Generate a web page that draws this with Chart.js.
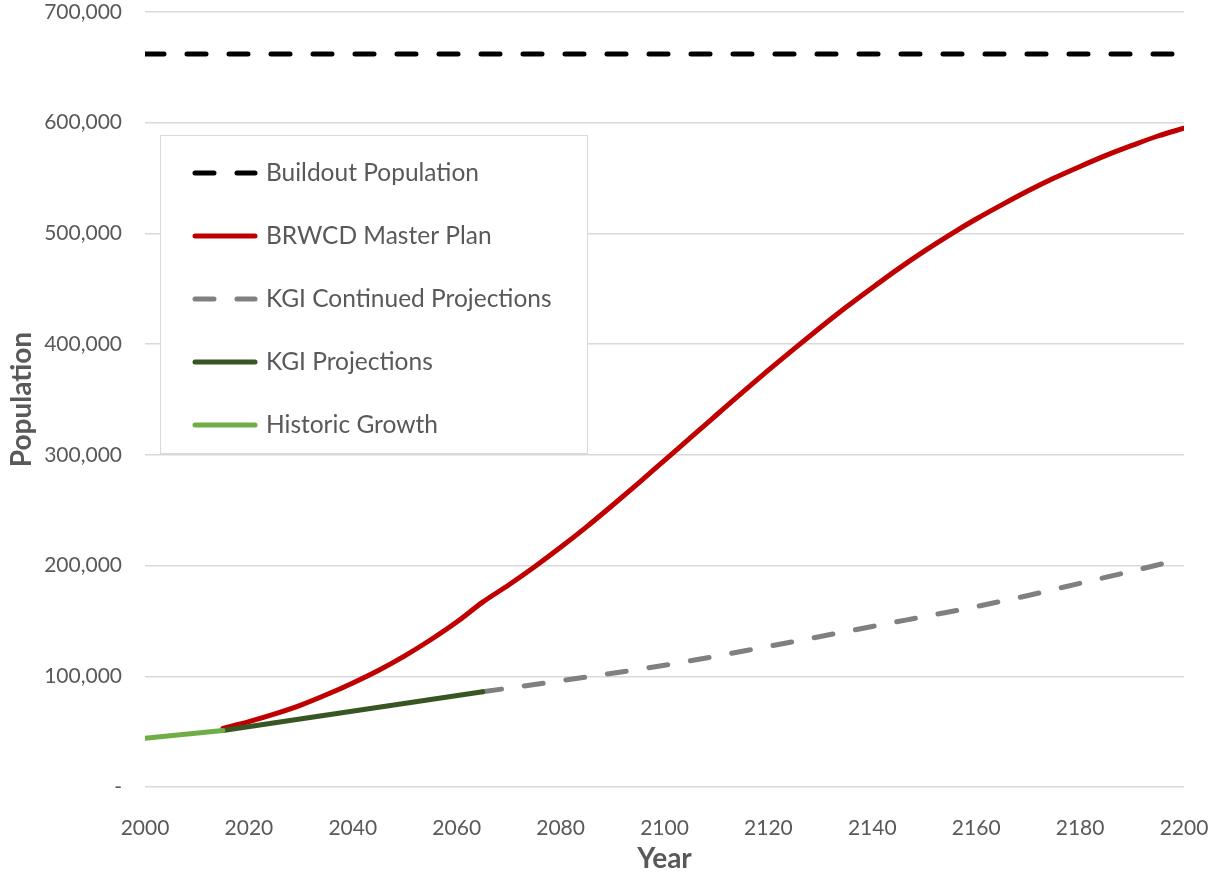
<!DOCTYPE html>
<html lang="en">
<head>
    <meta charset="UTF-8">
    <title>Population Projections</title>
    <script src="https://cdn.jsdelivr.net/npm/chart.js"></script>
    <style>
        body {
            margin: 0;
            background: #ffffff;
        }
        .container {
            width: 1215px;
            height: 873px;
        }
    </style>
</head>
<body>
    <div class="container">
        <canvas id="pop-chart" width="1215" height="873"></canvas>
    </div>

    <script>
        // Data (population in persons)
        const buildoutYears = [2000, 2200];
        const buildoutValues = [662000, 662000];

        const masterYears = [2015, 2020, 2025, 2030, 2035, 2040, 2045, 2050, 2055, 2060, 2065,
            2070, 2075, 2080, 2085, 2090, 2095, 2100, 2105, 2110, 2115, 2120, 2125, 2130, 2135,
            2140, 2145, 2150, 2155, 2160, 2165, 2170, 2175, 2180, 2185, 2190, 2195, 2200];
        const masterValues = [53000, 59000, 66000, 74000, 83500, 94000, 105500, 118500, 133000, 149000, 167000,
            182500, 199000, 216500, 235000, 254500, 274500, 295000, 315500, 336000, 356500, 376500, 396000, 415000, 433500,
            451000, 468000, 484000, 499000, 513000, 526000, 538500, 550000, 560500, 570500, 579500, 588000, 595000];

        const continuedYears = [2065, 2080, 2100, 2120, 2140, 2160, 2170, 2180, 2190, 2197];
        const continuedValues = [86000, 96000, 110000, 127000, 145000, 163000, 173000, 184000, 195000, 203000];

        const kgiYears = [2015, 2065];
        const kgiValues = [51000, 86000];

        const historicYears = [2000, 2015];
        const historicValues = [44000, 51000];

        const xTicks = { min: 2000, max: 2200, step: 20 };
        const yTicks = { min: 0, max: 700000, step: 100000 };

        const textColor = '#595959';
        const font = 'Lato';

        function toPoints(xs, ys) {
            return xs.map((x, i) => ({ x: x, y: ys[i] }));
        }

        // Boxed legend drawn inside the plot area, like the original
        const boxLegend = {
            id: 'boxLegend',
            afterDraw(chart) {
                const ctx = chart.ctx;
                const area = chart.chartArea;
                const x0 = area.left + 15;
                const y0 = area.top + 123;
                const w = 427, h = 318;
                ctx.save();
                ctx.fillStyle = '#ffffff';
                ctx.fillRect(x0, y0, w, h);
                ctx.strokeStyle = '#d9d9d9';
                ctx.lineWidth = 1;
                ctx.strokeRect(x0 + 0.5, y0 + 0.5, w, h);

                chart.data.datasets.forEach((ds, i) => {
                    const y = y0 + 38 + i * 63;
                    ctx.beginPath();
                    ctx.strokeStyle = ds.borderColor;
                    ctx.lineWidth = ds.borderWidth;
                    ctx.lineCap = 'round';
                    ctx.setLineDash(ds.borderDash || []);
                    ctx.moveTo(x0 + 35, y);
                    ctx.lineTo(x0 + 95, y);
                    ctx.stroke();
                    ctx.setLineDash([]);
                    ctx.fillStyle = textColor;
                    ctx.font = '24.5px ' + font;
                    ctx.textBaseline = 'middle';
                    ctx.textAlign = 'left';
                    ctx.fillText(ds.label, x0 + 106, y);
                });
                ctx.restore();
            }
        };

        const lineBase = {
            pointRadius: 0,
            pointHoverRadius: 0,
            borderWidth: 5,
            borderCapStyle: 'round',
            borderJoinStyle: 'round',
            fill: false
        };

        const ctx = document.getElementById('pop-chart').getContext('2d');
        new Chart(ctx, {
            type: 'line',
            data: {
                datasets: [
                    Object.assign({}, lineBase, {
                        label: 'Buildout Population',
                        data: toPoints(buildoutYears, buildoutValues),
                        borderColor: '#000000',
                        borderDash: [19, 23],
                        order: 5
                    }),
                    Object.assign({}, lineBase, {
                        label: 'BRWCD Master Plan',
                        data: toPoints(masterYears, masterValues),
                        borderColor: '#c00000',
                        cubicInterpolationMode: 'monotone',
                        order: 4
                    }),
                    Object.assign({}, lineBase, {
                        label: 'KGI Continued Projections',
                        data: toPoints(continuedYears, continuedValues),
                        borderColor: '#808080',
                        borderDash: [19, 23],
                        cubicInterpolationMode: 'monotone',
                        order: 3
                    }),
                    Object.assign({}, lineBase, {
                        label: 'KGI Projections',
                        data: toPoints(kgiYears, kgiValues),
                        borderColor: '#375623',
                        order: 2
                    }),
                    Object.assign({}, lineBase, {
                        label: 'Historic Growth',
                        data: toPoints(historicYears, historicValues),
                        borderColor: '#70ad47',
                        order: 1
                    })
                ]
            },
            options: {
                responsive: false,
                animation: false,
                layout: {
                    padding: { top: 12, right: 31, left: 0, bottom: 0 }
                },
                plugins: {
                    legend: { display: false },
                    tooltip: { enabled: false }
                },
                scales: {
                    x: {
                        type: 'linear',
                        min: xTicks.min,
                        max: xTicks.max,
                        border: { display: false },
                        grid: { display: false, drawTicks: false },
                        ticks: {
                            stepSize: xTicks.step,
                            padding: 29,
                            color: textColor,
                            font: { family: font, size: 21 },
                            maxRotation: 0,
                            callback: v => String(v)
                        },
                        title: {
                            display: true,
                            text: 'Year',
                            color: textColor,
                            font: { family: font, size: 28, weight: 'bold', lineHeight: 1 },
                            padding: { top: 3, bottom: 0 }
                        },
                        afterFit(scale) {
                            scale.height = 86;
                            scale.paddingLeft = 0;
                            scale.paddingRight = 0;
                        }
                    },
                    y: {
                        min: yTicks.min,
                        max: yTicks.max,
                        border: { display: false },
                        grid: { color: '#d9d9d9', lineWidth: 1.5, drawTicks: false },
                        ticks: {
                            stepSize: yTicks.step,
                            padding: 23,
                            color: textColor,
                            font: { family: font, size: 21 },
                            callback: v => v === 0 ? '-' : v.toLocaleString('en-US')
                        },
                        title: {
                            display: true,
                            text: 'Population',
                            color: textColor,
                            font: { family: font, size: 28, weight: 'bold', lineHeight: 1 },
                            padding: { top: 8, bottom: 0 }
                        },
                        afterFit(scale) {
                            scale.width = 145;
                            scale.paddingTop = 0;
                            scale.paddingBottom = 0;
                        }
                    }
                }
            },
            plugins: [boxLegend]
        });
    </script>
</body>
</html>
